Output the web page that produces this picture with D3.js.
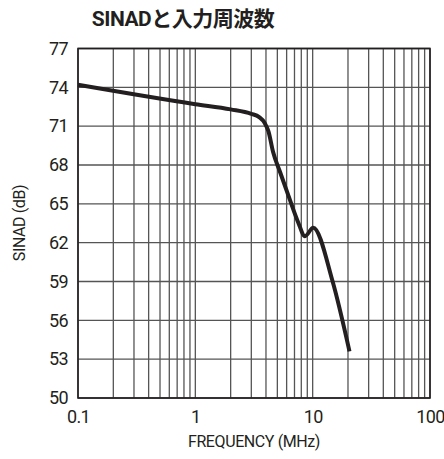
<!DOCTYPE html>
<html>
<head>
<meta charset="utf-8">
<script src="https://cdn.jsdelivr.net/npm/d3@7"></script>
<style>
  body { margin: 0; background: #fff; }
  text { font-family: "Roboto", "DejaVu Sans", sans-serif; fill: #231f20; }
</style>
</head>
<body>
<svg width="444" height="459"></svg>
<script>
// SINAD vs input frequency
const freqMHz = [0.1, 1, 2, 3, 3.5, 3.9, 4.2, 4.6, 5.3, 6.4, 7.5, 8.6, 10.1, 14.8, 20.6]
const sinadDb = [74.2, 72.7, 72.3, 71.95, 71.7, 71.25, 70.6, 69.0, 67.4, 65.3, 63.6, 62.5, 63.15, 59.0, 53.6]
const yTicks = [50, 53, 56, 59, 62, 65, 68, 71, 74, 77]
const xTicks = [0.1, 1, 10, 100]

const svg = d3.select('svg')
const x = d3.scaleLog().domain([0.1, 100]).range([78, 430])
const y = d3.scaleLinear().domain([50, 77]).range([398, 48.5])

// grid: every 1..9 of each decade
let vlines = []
for (let dec of [0.1, 1, 10]) {
	for (let k = 1; k <= 9; k++) vlines.push(dec * k)
}
vlines.push(100)

let grid = svg.append('g').attr('id', 'grid')
grid.selectAll('line.v')
	.data(vlines)
	.enter()
	.append('line')
	.attr('x1', d => x(d)).attr('x2', d => x(d))
	.attr('y1', y(50)).attr('y2', y(77))
	.attr('stroke', '#555')
	.attr('stroke-width', 1.3)
grid.selectAll('line.h')
	.data(yTicks)
	.enter()
	.append('line')
	.attr('x1', x(0.1)).attr('x2', x(100))
	.attr('y1', d => y(d)).attr('y2', d => y(d))
	.attr('stroke', '#555')
	.attr('stroke-width', 1.3)

svg.append('rect')
	.attr('x', x(0.1)).attr('y', y(77))
	.attr('width', x(100) - x(0.1)).attr('height', y(50) - y(77))
	.attr('fill', 'none')
	.attr('stroke', '#231f20')
	.attr('stroke-width', 1.6)

// axes, only used for the labels
let leftAxis = d3.axisLeft(y).tickValues(yTicks).tickSize(0).tickPadding(10)
svg.append('g')
	.attr('transform', `translate(${x(0.1)},0)`)
	.call(leftAxis)
	.call(g => g.select('.domain').remove())
	.selectAll('text')
	.style('font-size', '18px')
	.style('letter-spacing', '-0.6px')
	.attr('fill', '#231f20')

let bottomAxis = d3.axisBottom(x).tickValues(xTicks).tickFormat(d3.format('')).tickSize(0).tickPadding(12)
svg.append('g')
	.attr('transform', `translate(0,${y(50)})`)
	.call(bottomAxis)
	.call(g => g.select('.domain').remove())
	.selectAll('text')
	.style('font-size', '18px')
	.style('letter-spacing', '-0.6px')
	.attr('fill', '#231f20')

let line = d3.line()
	.x((d, i) => x(freqMHz[i]))
	.y(d => y(d))
	.curve(d3.curveMonotoneX)

svg.append('path')
	.datum(sinadDb)
	.attr('d', line)
	.attr('fill', 'none')
	.attr('stroke', '#231f20')
	.attr('stroke-width', 4)
	.attr('stroke-linejoin', 'round')

svg.append('text')
	.attr('x', 183).attr('y', 26)
	.attr('text-anchor', 'middle')
	.style('font-family', '"Roboto", "Noto Sans CJK JP", sans-serif')
	.style('font-weight', 'bold')
	.style('font-size', '21px')
	.style('letter-spacing', '-0.5px')
	.text('SINADと入力周波数')

svg.append('text')
	.attr('x', 254).attr('y', 447)
	.attr('text-anchor', 'middle')
	.style('font-size', '16px')
	.style('letter-spacing', '-0.4px')
	.text('FREQUENCY (MHz)')

svg.append('text')
	.attr('transform', 'translate(25,223) rotate(-90)')
	.attr('text-anchor', 'middle')
	.style('font-size', '16px')
	.style('letter-spacing', '-0.4px')
	.text('SINAD (dB)')
</script>
</body>
</html>
